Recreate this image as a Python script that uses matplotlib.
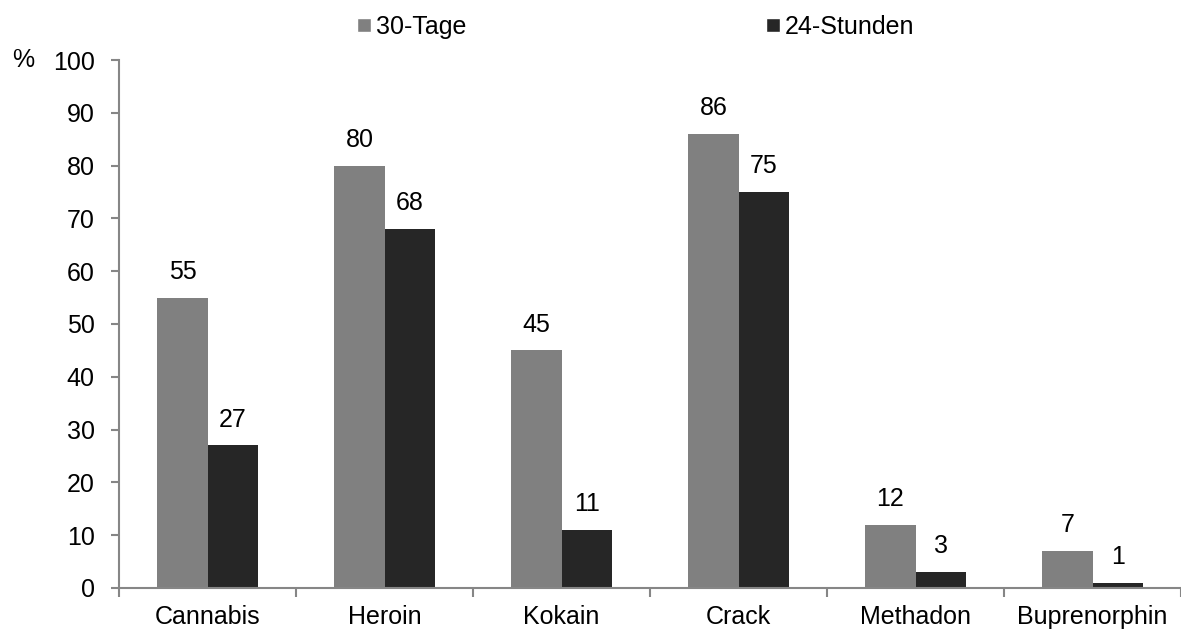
import matplotlib.pyplot as plt
from matplotlib.lines import Line2D
import numpy as np

substances = ["Cannabis", "Heroin", "Kokain", "Crack", "Methadon", "Buprenorphin"]
days_30 = [55, 80, 45, 86, 12, 7]
hours_24 = [27, 68, 11, 75, 3, 1]

plt.rcParams["font.family"] = ["Liberation Sans", "DejaVu Sans"]
plt.rcParams["font.size"] = 18

grey = "#808080"
dark = "#262626"
axis_grey = "#868686"

fig = plt.figure(figsize=(11.81, 6.29), dpi=100)
ax = fig.add_axes([0.1008, 0.0652, 0.8992, 0.8394])

x = np.arange(len(substances))
width = 0.284
bars_a = ax.bar(x - width / 2, days_30, width, color=grey, label="30-Tage")
bars_b = ax.bar(x + width / 2, hours_24, width, color=dark, label="24-Stunden")
ax.bar_label(bars_a, padding=10)
ax.bar_label(bars_b, padding=10)

ax.set_xlim(-0.5, len(substances) - 0.5)
ax.set_ylim(0, 100)
ax.set_yticks(range(0, 101, 10))

# category labels in the middle, tick marks on the boundaries
ax.set_xticks(x)
ax.set_xticklabels(substances)
ax.tick_params(axis="x", length=0, pad=12)
ax.set_xticks(np.arange(len(substances) + 1) - 0.5, minor=True)
ax.tick_params(axis="x", which="minor", length=6.5, color=axis_grey, width=1.5)
ax.tick_params(axis="y", length=5.5, color=axis_grey, width=1.5, pad=12)

for side in ["top", "right"]:
    ax.spines[side].set_visible(False)
for side in ["left", "bottom"]:
    ax.spines[side].set_color(axis_grey)
    ax.spines[side].set_linewidth(1.5)

fig.text(0.010, 0.905, "%", va="center", ha="left", fontsize=18)

handles = [
    Line2D([0], [0], marker="s", color="w", markerfacecolor=grey, markersize=10, label="30-Tage"),
    Line2D([0], [0], marker="s", color="w", markerfacecolor=dark, markersize=10, label="24-Stunden"),
]
fig.legend(
    handles=handles,
    loc="center",
    bbox_to_anchor=(0.5385, 0.957),
    ncol=2,
    frameon=False,
    handlelength=0.55,
    handletextpad=0.2,
    columnspacing=12.0,
    fontsize=18,
)

fig.savefig("out.png", dpi=100)
